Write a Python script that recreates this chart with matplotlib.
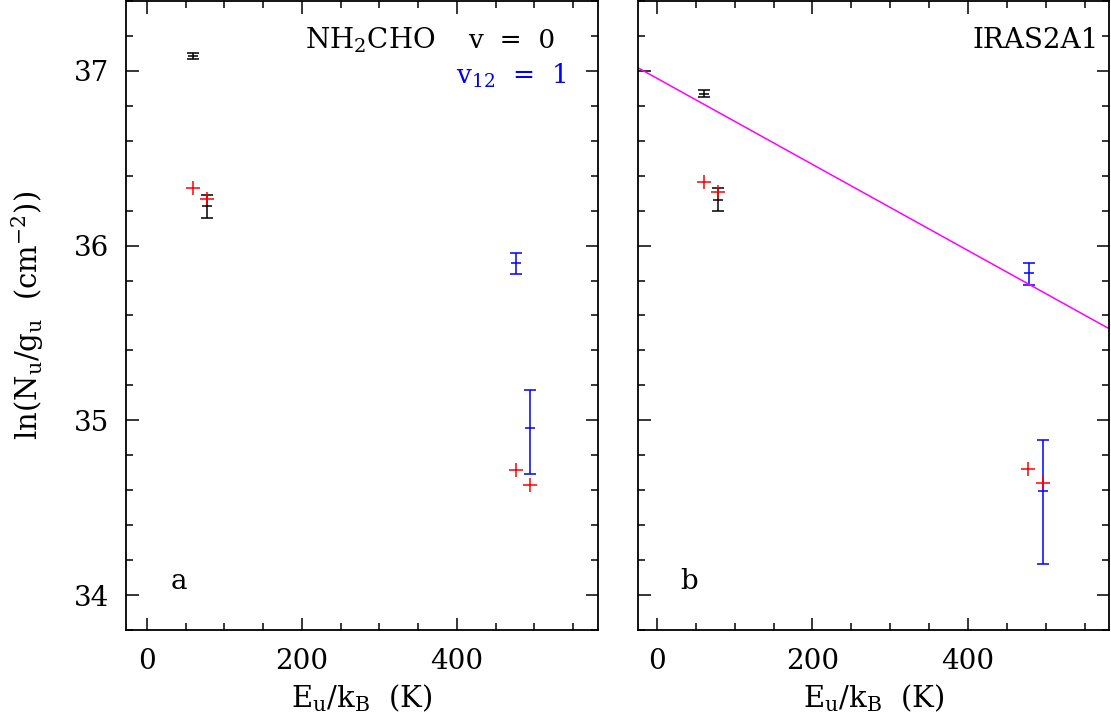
import matplotlib.pyplot as plt
from matplotlib.ticker import MultipleLocator

plt.rcParams['font.family'] = ['DejaVu Serif']
plt.rcParams['mathtext.fontset'] = 'dejavuserif'

# panel a
a_black_x = [60, 78]
a_black_y = [37.086, 36.225]
a_black_err = [0.019, 0.067]
a_blue_x = [476, 494]
a_blue_y = [35.901, 34.958]
a_blue_err_lo = [0.062, 0.267]
a_blue_err_hi = [0.057, 0.213]
a_red_x = [59, 77, 476, 494]
a_red_y = [36.331, 36.267, 34.714, 34.632]

# panel b
b_black_x = [61, 79]
b_black_y = [36.870, 36.263]
b_black_err = [0.021, 0.067]
b_blue_x = [478, 496]
b_blue_y = [35.842, 34.596]
b_blue_err_lo = [0.067, 0.419]
b_blue_err_hi = [0.061, 0.291]
b_red_x = [61, 79, 477, 496]
b_red_y = [36.366, 36.307, 34.720, 34.640]

# fitted line, panel b
fit_x = [-25, 582]
fit_y = [37.020, 35.522]

fig = plt.figure(figsize=(11.11, 7.18), dpi=100)
ax1 = fig.add_axes([0.1134, 0.1226, 0.4248, 0.8760])
ax2 = fig.add_axes([0.5743, 0.1226, 0.4240, 0.8760])

fs = 20
lfs = 21


def style(ax):
    ax.set_xlim(-27, 582)
    ax.set_ylim(33.8, 37.4)
    ax.xaxis.set_major_locator(MultipleLocator(200))
    ax.xaxis.set_minor_locator(MultipleLocator(50))
    ax.yaxis.set_major_locator(MultipleLocator(1))
    ax.yaxis.set_minor_locator(MultipleLocator(0.2))
    ax.tick_params(which='both', direction='in', top=True, right=True, width=1.1)
    ax.tick_params(which='major', length=9, labelsize=fs)
    ax.tick_params(which='minor', length=5)
    ax.tick_params(axis='x', pad=13)
    ax.tick_params(axis='y', pad=12)
    for s in ax.spines.values():
        s.set_linewidth(1.3)
    ax.set_xlabel(r'E$_\mathrm{u}$/k$_\mathrm{B}$  (K)', fontsize=lfs, labelpad=5)


def draw(ax, bx, by, be, ux, uy, ulo, uhi, rx, ry):
    ax.errorbar(bx, by, yerr=be, fmt='_', color='black', ms=7, mew=1.1,
                elinewidth=1.1, capsize=4.5, capthick=1.1)
    ax.errorbar(ux, uy, yerr=[ulo, uhi], fmt='_', color='blue', ms=7, mew=1.1,
                elinewidth=1.1, capsize=4.5, capthick=1.1)
    ax.plot(rx, ry, '+', color='red', ms=10, mew=1.1)


style(ax1)
style(ax2)
draw(ax1, a_black_x, a_black_y, a_black_err, a_blue_x, a_blue_y,
     a_blue_err_lo, a_blue_err_hi, a_red_x, a_red_y)
draw(ax2, b_black_x, b_black_y, b_black_err, b_blue_x, b_blue_y,
     b_blue_err_lo, b_blue_err_hi, b_red_x, b_red_y)
ax2.plot(fit_x, fit_y, color='magenta', lw=1.1)
ax2.set_xlim(-24, 581)
ax2.tick_params(axis='y', labelleft=False)

ax1.set_ylabel(r'ln(N$_\mathrm{u}$/g$_\mathrm{u}$  (cm$^{-2}$))', fontsize=lfs, labelpad=20)

ax1.text(0.38, 0.925, r'NH$_2$CHO', transform=ax1.transAxes, fontsize=fs)
ax1.text(0.725, 0.925, 'v  =  0', transform=ax1.transAxes, fontsize=19)
ax1.text(0.70, 0.868, r'v$_{12}$  =  1', transform=ax1.transAxes, fontsize=19, color='blue')
ax1.text(0.095, 0.065, 'a', transform=ax1.transAxes, fontsize=fs)
ax2.text(0.71, 0.925, 'IRAS2A1', transform=ax2.transAxes, fontsize=fs)
ax2.text(0.09, 0.065, 'b', transform=ax2.transAxes, fontsize=fs)

fig.savefig('out.png', dpi=100)
